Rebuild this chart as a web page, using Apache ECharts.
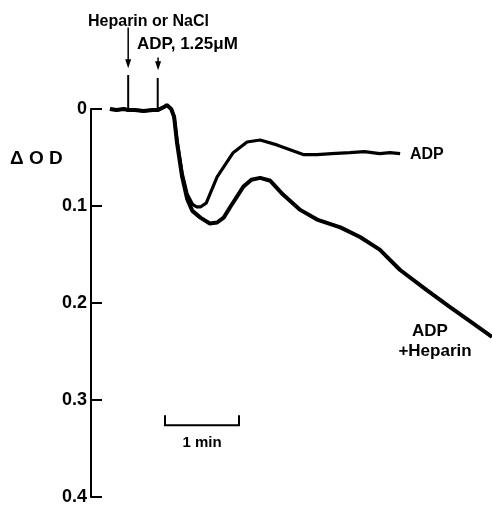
<!DOCTYPE html>
<html><head><meta charset="utf-8">
<script src="https://cdn.jsdelivr.net/npm/echarts@6/dist/echarts.min.js"></script>
<style>html,body{margin:0;padding:0;background:#fff}#c{width:492px;height:506px}</style>
</head><body><div id="c"></div>
<script>
// time in minutes, ΔOD (downward positive)
const yTickLabels = ['0', '0.1', '0.2', '0.3', '0.4'];
const baseT  = [0.26, 0.35, 0.45, 0.51, 0.60, 0.72, 0.85, 0.92, 1.00, 1.04, 1.10];
const baseOD = [0.000, 0.001, 0.000, 0.001, 0.001, 0.002, 0.001, 0.001, -0.002, -0.004, 0.000];
const spike1 = [[0.51, 0.001], [0.51, -0.035]];
const spike2 = [[0.915, 0.001], [0.915, -0.032]];
const adpT  = [1.14, 1.18, 1.25, 1.32, 1.39, 1.45, 1.50, 1.58, 1.73, 1.95, 2.14, 2.32, 2.55, 2.73, 2.91, 3.10, 3.30, 3.55, 3.75, 3.96, 4.10, 4.24];
const adpOD = [0.008, 0.032, 0.066, 0.088, 0.098, 0.101, 0.101, 0.097, 0.070, 0.045, 0.034, 0.032, 0.037, 0.042, 0.047, 0.047, 0.046, 0.045, 0.044, 0.046, 0.045, 0.046];
const hepT  = [1.14, 1.18, 1.25, 1.32, 1.39, 1.50, 1.63, 1.73, 1.82, 1.91, 2.09, 2.20, 2.32, 2.46, 2.63, 2.87, 3.10, 3.42, 3.69, 3.96, 4.24, 4.61, 4.92, 5.24, 5.50];
const hepOD = [0.008, 0.035, 0.070, 0.093, 0.105, 0.112, 0.118, 0.117, 0.112, 0.101, 0.080, 0.073, 0.071, 0.074, 0.088, 0.104, 0.114, 0.122, 0.132, 0.145, 0.166, 0.187, 0.204, 0.221, 0.235];

const pairs = (t, v) => t.map((x, i) => [x, v[i]]);
const adpData = pairs(baseT, baseOD).concat(pairs(adpT, adpOD));
const hepData = pairs(baseT, baseOD).concat(pairs(hepT, hepOD));

const chart = echarts.init(document.getElementById('c'));
const FONT = '"Liberation Sans", Arial, sans-serif';
const spikeSeries = (d) => ({ type: 'line', data: d, showSymbol: false, clip: false,
  lineStyle: { color: '#000', width: 2 } });
chart.setOption({
  animation: false,
  backgroundColor: '#fff',
  grid: { left: 91, right: 0, top: 109, bottom: 9 },
  xAxis: { type: 'value', min: 0, max: 5.5, show: false },
  yAxis: {
    type: 'value', inverse: true, min: 0, max: 0.4, interval: 0.1,
    axisLine: { show: true, lineStyle: { color: '#000', width: 2 } },
    axisTick: { show: true, inside: true, length: 11, lineStyle: { color: '#000', width: 2 } },
    axisLabel: { color: '#000', fontSize: 18, fontWeight: 'bold', fontFamily: FONT, margin: 4,
      formatter: (v) => yTickLabels[Math.round(v * 10)] },
    splitLine: { show: false }
  },
  series: [
    { type: 'line', data: hepData, showSymbol: false, clip: false,
      lineStyle: { color: '#000', width: 4 } },
    { type: 'line', data: adpData, showSymbol: false, clip: false,
      lineStyle: { color: '#000', width: 3.2 } },
    spikeSeries(spike1),
    spikeSeries(spike2)
  ]
});

function P(t, v) { return chart.convertToPixel({ xAxisIndex: 0, yAxisIndex: 0 }, [t, v]); }
const a1t = P(0.51, -0.084), a1b = P(0.51, -0.042);
const a2t = P(0.92, -0.053), a2b = P(0.92, -0.040);
const s0 = P(1.015, 0.326), s1 = P(2.03, 0.326);
function arrow(top, bot) {
  return [
    { type: 'line', shape: { x1: top[0], y1: top[1], x2: bot[0], y2: bot[1] - 6 }, style: { stroke: '#000', lineWidth: 1.5 } },
    { type: 'polygon', shape: { points: [[bot[0] - 3, bot[1] - 9], [bot[0] + 3, bot[1] - 9], [bot[0], bot[1]]] }, style: { fill: '#000' } }
  ];
}
const txt = (x, y, s, size, align) => ({ type: 'text', x: x, y: y,
  style: { text: s, fill: '#000', font: 'bold ' + size + 'px ' + FONT, align: align || 'left', verticalAlign: 'middle' } });

chart.setOption({ graphic: [].concat(
  arrow(a1t, a1b), arrow(a2t, a2b),
  [
    txt(88, 22, 'Heparin or NaCl', 16),
    txt(137, 44, 'ADP, 1.25\u03bcM', 17),
    txt(10, 159, '\u0394 O D', 19),
    txt(410, 155, 'ADP', 16),
    txt(430, 331, 'ADP', 17, 'center'),
    txt(435, 351, '+Heparin', 17, 'center'),
    { type: 'polyline', shape: { points: [[s0[0], s0[1] - 10], s0, s1, [s1[0], s1[1] - 10]] }, style: { stroke: '#000', lineWidth: 2, fill: null } },
    txt((s0[0] + s1[0]) / 2, 443, '1 min', 15, 'center')
  ]
)});
</script></body></html>
